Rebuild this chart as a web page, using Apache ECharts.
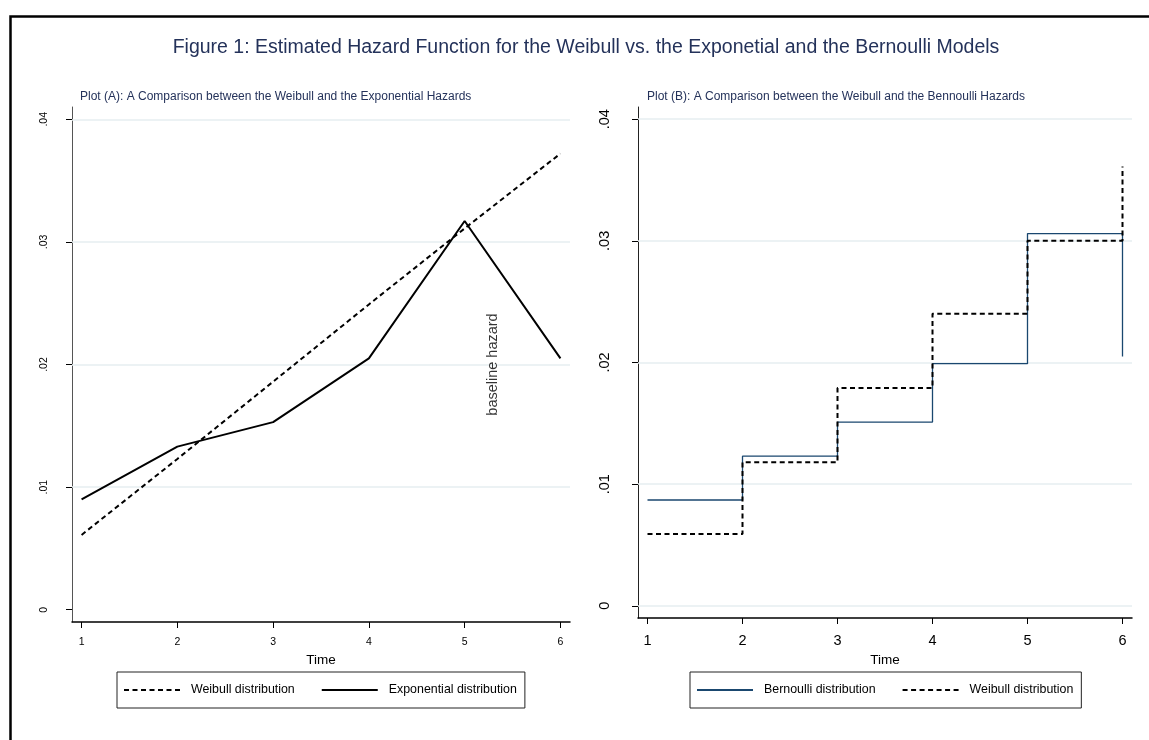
<!DOCTYPE html>
<html>
<head>
<meta charset="utf-8">
<script src="https://cdn.jsdelivr.net/npm/echarts@6/dist/echarts.min.js"></script>
<style>
html,body{margin:0;padding:0;background:#fff;}
#c{width:1149px;height:740px;}
</style>
</head>
<body>
<div id="c"></div>
<script>
// ---- data ----
const timeA = [1, 2, 3, 4, 5, 6];
const weibullA = [0.0061, 0.0123, 0.0186, 0.0249, 0.0311, 0.0372];
const exponentialA = [0.0090, 0.0133, 0.0153, 0.0205, 0.0317, 0.0205];
const timeB = [1, 2, 3, 4, 5, 6];
const bernoulliB = [0.0087, 0.0123, 0.0151, 0.0199, 0.0306, 0.0205];
const weibullB = [0.0059, 0.0118, 0.0179, 0.0240, 0.0300, 0.0361];
const xTicks = [1, 2, 3, 4, 5, 6];
const xTickLabels = ['1', '2', '3', '4', '5', '6'];
const yTicks = [0, 0.01, 0.02, 0.03, 0.04];
const yTickLabels = ['0', '.01', '.02', '.03', '.04'];
const gridLinesA = [0.01, 0.02, 0.03, 0.04];
const gridLinesB = [0, 0.01, 0.02, 0.03, 0.04];
const annotationText = 'baseline hazard';
const annotationAt = [5.3, 0.02];

const FONT = "'Liberation Sans',Arial,Helvetica,sans-serif";
const NAVY = '#24325a';
const GRIDC = '#e6eef1';

const pair = (xs, ys) => xs.map((x, i) => [x, ys[i]]);
const yFmt = v => { const i = yTicks.findIndex(t => Math.abs(t - v) < 1e-9); return i >= 0 ? yTickLabels[i] : ''; };
const xFmt = v => { const i = xTicks.findIndex(t => Math.abs(t - v) < 1e-9); return i >= 0 ? xTickLabels[i] : ''; };

function xAxisCfg(idx, fs, margin) {
  return {
    type: 'value', gridIndex: idx, min: 0.9, max: 6.1,
    name: 'Time', nameLocation: 'middle', nameGap: 26,
    nameTextStyle: { fontFamily: FONT, fontSize: 13.5, color: '#000' },
    axisLine: { show: true, onZero: false, lineStyle: { color: '#000', width: 1.5 } },
    axisTick: { show: true, length: 6, customValues: xTicks, lineStyle: { color: '#000', width: 1 } },
    axisLabel: { show: true, customValues: xTicks, formatter: xFmt, fontFamily: FONT, fontSize: fs, color: '#000', margin: margin },
    splitLine: { show: false }
  };
}
function yAxisCfg(idx, fs, margin, lineColor) {
  return {
    type: 'value', gridIndex: idx, min: -0.001, max: 0.041,
    axisLine: { show: true, onZero: false, lineStyle: { color: lineColor, width: 1 } },
    axisTick: { show: true, length: 6, customValues: yTicks, lineStyle: { color: '#000', width: 1 } },
    axisLabel: { show: true, customValues: yTicks, formatter: yFmt, rotate: 90, fontFamily: FONT, fontSize: fs, color: '#000', margin: margin },
    splitLine: { show: false }
  };
}
function gridMarks(vals) {
  return {
    silent: true, z: 1, symbol: ['none', 'none'], animation: false,
    label: { show: false },
    lineStyle: { color: GRIDC, width: 1.5, type: 'solid' },
    emphasis: { disabled: true },
    data: vals.map(v => ({ yAxis: v }))
  };
}
function legendCfg(names, left) {
  return {
    data: names, left: left, top: 672,
    orient: 'horizontal', itemWidth: 56, itemHeight: 14, itemGap: 26,
    padding: [12, 8, 12, 6], borderColor: '#222', borderWidth: 1, selectedMode: false,
    itemStyle: { color: 'rgba(0,0,0,0)', borderWidth: 0, opacity: 0 },
    textStyle: { fontFamily: FONT, fontSize: 12.4, color: '#000', padding: [0, 0, 0, 6] }
  };
}

const chart = echarts.init(document.getElementById('c'), null, { renderer: 'canvas' });
chart.setOption({
  backgroundColor: '#fff',
  animation: false,
  title: [
    { text: 'Figure 1: Estimated Hazard Function for the Weibull vs. the Exponetial and the Bernoulli Models',
      left: 586, top: 38, textAlign: 'center', padding: 0,
      textStyle: { fontFamily: FONT, fontSize: 19.5, fontWeight: 'normal', color: NAVY } },
    { text: 'Plot (A): A Comparison between the Weibull and the Exponential Hazards',
      left: 80, top: 91, padding: 0,
      textStyle: { fontFamily: FONT, fontSize: 12, fontWeight: 'normal', color: NAVY } },
    { text: 'Plot (B): A Comparison between the Weibull and the Bennoulli Hazards',
      left: 647, top: 91, padding: 0,
      textStyle: { fontFamily: FONT, fontSize: 12, fontWeight: 'normal', color: NAVY } }
  ],
  graphic: [
    { type: 'rect', left: 8, top: 14, shape: { x: 0, y: 0, width: 1200, height: 800 },
      style: { fill: 'none', stroke: '#000', lineWidth: 2.5 }, silent: true, z: 100 }
  ],
  legend: [
    legendCfg(['Weibull distribution', 'Exponential distribution'], 117),
    legendCfg(['Bernoulli distribution', 'Weibull distribution'], 690)
  ],
  grid: [
    { left: 72, top: 107, width: 498, height: 515, containLabel: false },
    { left: 638, top: 107, width: 494, height: 511, containLabel: false }
  ],
  xAxis: [ xAxisCfg(0, 10.5, 15), xAxisCfg(1, 14.5, 15) ],
  yAxis: [ yAxisCfg(0, 10.5, 22, '#555'), yAxisCfg(1, 14.5, 26, '#222') ],
  series: [
    { type: 'scatter', name: 'annot', xAxisIndex: 0, yAxisIndex: 0, z: 3,
      data: [annotationAt], symbolSize: 1, itemStyle: { color: 'rgba(0,0,0,0)' }, silent: true,
      label: { show: true, position: 'inside', rotate: 90, formatter: annotationText,
               fontFamily: FONT, fontSize: 14.5, color: '#000' },
      markLine: gridMarks(gridLinesA) },
    { type: 'scatter', name: 'gridB', xAxisIndex: 1, yAxisIndex: 1, data: [],
      markLine: gridMarks(gridLinesB) },
    { type: 'line', name: 'Weibull distribution', xAxisIndex: 0, yAxisIndex: 0, z: 2,
      data: pair(timeA, weibullA), symbol: 'none', smooth: false,
      lineStyle: { color: '#000', width: 2, type: [5, 3.5] }, itemStyle: { color: '#000' } },
    { type: 'line', name: 'Exponential distribution', xAxisIndex: 0, yAxisIndex: 0, z: 2,
      data: pair(timeA, exponentialA), symbol: 'none', smooth: false,
      lineStyle: { color: '#000', width: 2, type: 'solid' }, itemStyle: { color: '#000' } },
    { type: 'line', name: 'Bernoulli distribution', xAxisIndex: 1, yAxisIndex: 1, z: 2,
      data: pair(timeB, bernoulliB), symbol: 'none', step: 'end',
      lineStyle: { color: '#1a476f', width: 1.3, type: 'solid' }, itemStyle: { color: '#1a476f' } },
    { type: 'line', name: 'Weibull distribution', xAxisIndex: 1, yAxisIndex: 1, z: 3,
      data: pair(timeB, weibullB), symbol: 'none', step: 'end',
      lineStyle: { color: '#000', width: 2, type: [5, 3.5] }, itemStyle: { color: '#000' } }
  ]
});
</script>
</body>
</html>
